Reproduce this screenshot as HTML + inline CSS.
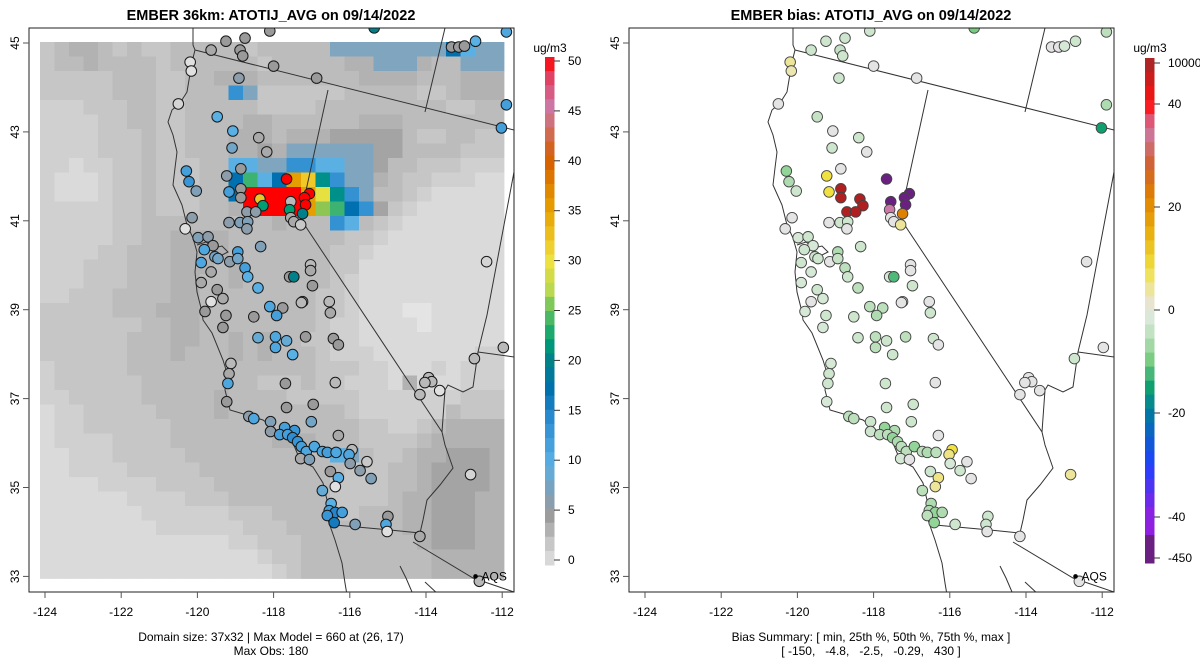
<!DOCTYPE html>
<html><head><meta charset="utf-8"><style>
html,body{margin:0;padding:0;background:#fff;}
svg{display:block;font-family:"Liberation Sans",sans-serif;}
</style></head><body>
<svg id="fig" width="1200" height="672" viewBox="0 0 1200 672" xmlns="http://www.w3.org/2000/svg">
<defs>
<clipPath id="clipL"><rect x="29" y="28" width="485" height="564"/></clipPath>
<clipPath id="clipR"><rect x="629" y="28" width="485" height="564"/></clipPath>
</defs>
<rect x="0" y="0" width="1200" height="672" fill="#fff"/>
<text x="271" y="20" text-anchor="middle" font-size="14.5" font-weight="bold">EMBER 36km: ATOTIJ_AVG on 09/14/2022</text>
<text x="871" y="20" text-anchor="middle" font-size="14.5" font-weight="bold">EMBER bias: ATOTIJ_AVG on 09/14/2022</text>
<g id="left-grid" clip-path="url(#clipL)"></g>
<g id="left-lines" clip-path="url(#clipL)" fill="none" stroke="#333" stroke-width="1"></g>
<g clip-path="url(#clipR)"><g id="right-lines" fill="none" stroke="#333" stroke-width="1" transform="translate(600,0)"></g></g>
<g id="left-pts" clip-path="url(#clipL)"></g>
<g id="right-pts" clip-path="url(#clipR)"></g>
<g id="axes"></g>
<g id="cbars"></g>
<text x="271" y="641" text-anchor="middle" font-size="12">Domain size: 37x32 | Max Model = 660 at (26, 17)</text>
<text x="271" y="655" text-anchor="middle" font-size="12">Max Obs: 180</text>
<text x="871" y="641" text-anchor="middle" font-size="12">Bias Summary: [ min, 25th %, 50th %, 75th %, max ]</text>
<text x="871" y="655" text-anchor="middle" font-size="12" xml:space="preserve">[ -150,   -4.8,   -2.5,   -0.29,   430 ]</text>
</svg>
<script>
// ---- data ----
const gridRows = [
"34554343"+"34444434"+"4444llll"+"lllldbll",
"34454444"+"34444443"+"4444455l"+"ll544lll",
"33333444"+"33445554"+"44444455"+"55444555",
"33333444"+"33444ml3"+"33333444"+"44334555",
"22233344"+"33444443"+"33344444"+"44443344",
"22223344"+"33444455"+"44444455"+"54444444",
"22223334"+"33444555"+"45556666"+"64334433",
"22223334"+"33444556"+"5llllll6"+"64444333",
"22122334"+"33344bbl"+"lmmbbll6"+"44333222",
"21112334"+"33344dgb"+"doYtmll5"+"43322211",
"21112334"+"33344drr"+"rroytml4"+"43211111",
"22222334"+"333445rr"+"rroGgdm6"+"32111111",
"22222334"+"44444444"+"5444mb43"+"21111111",
"22222334"+"45555444"+"44444332"+"11111111",
"22223344"+"45555444"+"44443321"+"11111111",
"22233344"+"45554544"+"44443311"+"11111111",
"22233344"+"45544544"+"44443211"+"11111111",
"22333444"+"45544444"+"44433211"+"11111111",
"33333444"+"55544444"+"44433211"+"10011111",
"33333334"+"45544444"+"44432211"+"11011111",
"33333344"+"45544545"+"44332211"+"11111111",
"33333344"+"45444545"+"44432221"+"11111122",
"23333344"+"44444444"+"44433322"+"11121222",
"23333334"+"44444443"+"33433222"+"15111222",
"22333334"+"44445444"+"43333322"+"22222333",
"12233333"+"44445444"+"44444322"+"22224333",
"12233333"+"34444444"+"44444433"+"22345555",
"12222333"+"34444444"+"55544433"+"33455555",
"11222333"+"33444444"+"4444bl43"+"34556665",
"11222233"+"33344444"+"44444333"+"44566665",
"11112222"+"33334444"+"44443333"+"44566665",
"11111122"+"22333444"+"44443333"+"45566655",
"11111112"+"22222333"+"44443344"+"45566655",
"11111111"+"22222233"+"34444444"+"45566655",
"11111111"+"11111223"+"33444444"+"44566655",
"11111111"+"11111112"+"33444444"+"44455555",
"11111111"+"11111111"+"23444444"+"44455555"
];
const gridPalette = {"0":"#e4e4e4","1":"#dadada","2":"#d0d0d0","3":"#c6c6c6","4":"#bcbcbc","5":"#b2b2b2","6":"#a4a4a4",
 "l":"#80a6bf","b":"#5ab0e2","m":"#3592d2","d":"#0070b0","t":"#00908a","g":"#3cb371","G":"#8ec653","y":"#e6e040","Y":"#f0c828","o":"#e69f00","r":"#ff0000"};

const siteLon = [-118.10,-115.36,-119.25,-118.75,-119.64,-118.88,-118.81,-120.19,-120.16,-118.00,-116.87,-118.91,-120.50,-119.48,-119.07,-118.39,-119.09,-118.18,-113.33,-113.14,-112.99,-112.70,-111.89,-111.89,-112.02,-120.29,-120.22,-120.03,-118.86,-119.23,-117.66,-119.17,-118.86,-118.86,-118.36,-118.28,-117.55,-117.58,-117.06,-117.19,-117.16,-117.24,-118.70,-118.47,-120.14,-120.32,-119.17,-118.88,-118.68,-118.70,-117.55,-117.47,-117.29,-119.98,-119.72,-119.59,-119.82,-118.94,-118.34,-119.54,-119.46,-119.15,-118.94,-119.90,-119.64,-118.75,-118.68,-117.03,-117.03,-117.58,-117.47,-119.90,-119.48,-118.41,-116.98,-119.33,-119.64,-118.10,-117.76,-117.24,-116.54,-112.41,-119.80,-119.25,-118.52,-117.92,-117.27,-116.51,-119.33,-118.41,-117.95,-117.95,-117.66,-117.16,-117.50,-116.43,-116.30,-119.12,-119.17,-119.20,-117.69,-116.38,-119.23,-117.66,-116.96,-118.65,-118.52,-118.08,-117.01,-117.71,-117.45,-118.08,-117.84,-117.63,-117.50,-117.37,-117.27,-117.14,-116.93,-116.72,-116.59,-116.36,-116.30,-115.94,-116.02,-115.99,-117.29,-117.06,-115.55,-115.73,-115.44,-116.51,-116.30,-116.38,-116.72,-116.49,-116.54,-116.38,-116.20,-116.59,-116.41,-115.86,-115.00,-115.05,-115.02,-114.16,-112.83,-112.73,-111.97,-113.93,-113.85,-114.03,-113.64,-114.16,-112.60];
const siteLat = [45.27,45.34,45.04,45.11,44.84,44.84,44.71,44.57,44.37,44.48,44.21,44.21,43.63,43.34,43.02,42.87,42.64,42.55,44.91,44.91,44.93,45.04,45.25,43.61,43.09,42.12,41.88,41.67,42.17,42.01,41.94,41.65,41.72,41.52,41.49,41.34,41.43,41.25,41.61,41.52,41.36,41.16,41.20,41.20,41.07,40.82,40.96,40.96,40.98,40.82,41.07,40.98,40.91,40.62,40.64,40.44,40.35,40.30,40.42,40.19,40.15,40.08,40.15,40.06,39.85,39.94,39.74,40.01,39.88,39.74,39.74,39.61,39.45,39.49,39.54,39.25,39.18,39.07,39.04,39.18,39.18,40.08,38.96,38.87,38.84,38.87,39.16,38.93,38.60,38.37,38.39,38.15,38.30,38.39,37.99,38.35,38.21,37.79,37.56,37.34,37.34,37.36,36.93,36.80,36.87,36.60,36.55,36.48,36.48,36.35,36.28,36.26,36.19,36.19,36.12,36.03,35.92,35.81,35.92,35.81,35.79,35.79,36.17,35.85,35.74,35.54,35.65,35.63,35.58,35.38,35.20,35.36,35.22,35.02,34.93,34.64,34.48,34.44,34.44,34.37,34.21,34.17,34.35,34.17,34.01,33.90,35.29,37.90,38.15,37.47,37.38,37.36,37.18,37.09,32.89];
const siteObs = [5,20,5,5,4,5,5,0,0,5,5,6,1,10,10,4,8,4,5,5,5,10,11,12,12,12,13,7,5,6,50,12,5,5,32,22,3,22,50,50,50,20,6,6,6,0,6,7,7,6,4,4,2,7,6,5,11,12,7,8,8,6,8,11,4,12,10,3,4,5,20,4,5,10,5,4,0,11,5,4,3,1,5,5,5,12,3,4,5,9,11,11,9,5,10,5,5,3,4,11,5,3,5,5,5,6,11,7,8,12,13,6,12,12,14,13,12,11,11,11,12,11,4,3,11,6,4,7,2,6,7,5,10,0,9,10,12,15,12,13,16,7,5,11,0,4,1,3,3,3,3,3,0,3,3];
const siteBias = [-3,-10,-3,-3,-3,-4,-3,4,3,0,0,-3,0,-4,0,-3,-3,0,0,0,-2,-3,-5,-6,-15,-8,-6,-3,0,8,-450,8,45,45,45,45,-450,35,-450,-450,-450,22,45,45,0,0,0,-3,-3,0,0,0,4,-2,-3,-2,-3,-6,-3,-3,-3,0,-4,-3,-2,-5,-3,0,0,-2,-12,-2,-3,-5,-3,-2,0,-5,-5,-3,0,0,-2,-3,-3,-6,0,-3,-2,-3,-5,-5,-3,-5,-3,-3,0,-2,-3,-3,-3,0,-2,-3,-3,-5,-5,-3,-3,-8,-6,-3,-5,-5,-8,-6,-5,-5,-8,-5,-6,-5,0,8,5,-2,-2,0,0,-3,0,-3,5,4,-5,-6,-6,-8,-6,-5,-8,-3,-3,-3,0,0,4,-3,0,0,0,0,0,0,0];

const obsStopV = [0,2,5,7,10,15,17,20,22,25,27,30,35,40,45,48,50];
const obsStopC = ['#e0e0e0','#c8c8c8','#9a9a9a','#80a0b8','#58b0e4','#2585cc','#0070b0','#00808a','#009e73','#60c060','#b8d850','#f0e040','#e69f00','#d55e00','#cc79a7','#e04060','#ff0000'];
const biasStopV = [-450,-40,-30,-20,-15,-10,-5,-2,0,3,8,15,22,28,35,40,45,10000];
const biasStopC = ['#6a2080','#9020e0','#2040ff','#007aa0','#10a070','#78cc80','#bcdfbc','#d6e9d6','#e4e4e4','#ece6b0','#f0e040','#e8b010','#e08000','#d06030','#cc79a7','#ff1010','#b02020','#a02828'];
const xTicks = [-124,-122,-120,-118,-116,-114,-112];
const yTicks = [33,35,37,39,41,43,45];
const obsBarTicks = [0,5,10,15,20,25,30,35,40,45,50];
const biasBarLabels = ['10000','40','20','0','-20','-40','-450'];
const biasBarPos = [63,104,207,310,413,517,558];

// ---- helpers ----
const NS = 'http://www.w3.org/2000/svg';
function mk(tag, attrs, parent){const e=document.createElementNS(NS,tag);for(const k in attrs)e.setAttribute(k,attrs[k]);parent.appendChild(e);return e;}
function hex(c){return [1,3,5].map(i=>parseInt(c.substr(i,2),16));}
function lerpC(a,b,t){const A=hex(a),B=hex(b);return 'rgb('+A.map((v,i)=>Math.round(v+(B[i]-v)*t)).join(',')+')';}
function scaleColor(v,V,C){if(v<=V[0])return C[0];for(let i=1;i<V.length;i++){if(v<=V[i]){return lerpC(C[i-1],C[i],(v-V[i-1])/(V[i]-V[i-1]));}}return C[C.length-1];}
const xL = lon => 45 + (lon+124)*38.1;
const xR = lon => 645 + (lon+124)*38.1;
const yS = lat => 43 + (45-lat)*44.45;

// ---- grid ----
const gG = document.getElementById('left-grid');
gridRows.forEach((row,r)=>{
  for(let c=0;c<row.length;c++){
    const e=mk('rect',{x:40+c*14.5,y:42+r*14.5,width:14.9,height:14.9,fill:gridPalette[row[c]]},gG);
    
    
  }
});

// ---- map boundaries (pixel geometry of left panel) ----
const mapLines = [
 [[193,28],[193,45],[195,50],[192,62],[187,92],[180,103],[172,110],[168,122],[173,135],[177,152],[175,168],[173,185],[182,205],[187,225],[193,238],[197,252],[195,272],[197,292],[202,312],[203,320],[212,333],[223,360],[227,373],[225,390],[230,410],[247,415],[263,420],[280,433],[293,443],[300,460],[313,467],[323,483],[327,500],[328,520],[335,540],[342,563],[345,583],[347,595]],
 [[197,245],[206,242],[214,248],[222,246],[228,252],[220,256]],
 [[195,50],[514,130]],
 [[445,28],[425,112]],
 [[328,90],[300,218],[442,432],[445,445],[453,468],[440,485],[427,500],[423,520],[420,533]],
 [[335,525],[390,530],[420,533]],
 [[413,542],[473,578],[514,592]],
 [[514,172],[487,315],[478,352],[473,387],[463,392],[448,385],[445,390],[442,432]],
 [[478,352],[514,357]],
 [[400,566],[406,578],[412,592]],[[425,582],[440,596]]
];
['left-lines','right-lines'].forEach(id=>{
  const g=document.getElementById(id);
  mapLines.forEach(pts=>{
    const e=mk('polyline',{points:pts.map(p=>p.join(',')).join(' ')},g);
    
    
  });
});

// ---- markers ----
const gL=document.getElementById('left-pts'), gR=document.getElementById('right-pts');
siteLon.forEach((lon,i)=>{
  const a=mk('circle',{cx:xL(lon),cy:yS(siteLat[i]),r:5.3,fill:scaleColor(siteObs[i],obsStopV,obsStopC),stroke:'#1a1a1a','stroke-width':1},gL);
  
  
  const b=mk('circle',{cx:xR(lon),cy:yS(siteLat[i]),r:5.3,fill:scaleColor(siteBias[i],biasStopV,biasStopC),stroke:'#444','stroke-width':0.9},gR);
  
  
});
const gAx=document.getElementById('axes');
[[xL(-112.7),'aqs-label-left'],[xR(-112.7),'aqs-label-right']].forEach(([x,n])=>{
  const d=mk('circle',{cx:x,cy:yS(33.0),r:2.3,fill:'#000'},gAx);
  
  
  const t=mk('text',{x:x+6,y:yS(33.0)+4,'font-size':12},gAx);
  t.textContent='AQS';
  
  
});

// ---- axes ----
[[29,xL,'left'],[629,xR,'right']].forEach(([bx,xf,side])=>{
  const box=mk('rect',{x:bx,y:28,width:485,height:564,fill:'none',stroke:'#222','stroke-width':1},gAx);
  
  
  xTicks.forEach(t=>{
    const x=xf(t);
    const l=mk('line',{x1:x,y1:592,x2:x,y2:598,stroke:'#555'},gAx);
    
    
    const tx=mk('text',{x:x,y:616,'text-anchor':'middle','font-size':12},gAx);
    tx.textContent=t;
    
    
  });
  yTicks.forEach(t=>{
    const y=yS(t);
    const l=mk('line',{x1:bx-6,y1:y,x2:bx,y2:y,stroke:'#555'},gAx);
    
    
    const tx=mk('text',{x:bx-10,y:y,'text-anchor':'middle','font-size':12,transform:'rotate(-90 '+(bx-10)+' '+y+')'},gAx);
    tx.textContent=t;
    
    
  });
});

// ---- colorbars ----
const gC=document.getElementById('cbars');
const NB=36, cbTop=57, cbBot=565;
for(let i=0;i<NB;i++){
  const y0=cbTop+(cbBot-cbTop)*i/NB, h=(cbBot-cbTop)/NB+0.5;
  const v=50*(1-(i+0.5)/NB);
  const e=mk('rect',{x:545,y:y0,width:9.5,height:h,fill:scaleColor(v,obsStopV,obsStopC)},gC);
  
  
}
obsBarTicks.forEach(t=>{
  const y=560-(t/50)*(560-61);
  const l=mk('line',{x1:554,y1:y,x2:560,y2:y,stroke:'#333'},gC);
  
  
  const tx=mk('text',{x:568,y:y+4,'font-size':12},gC);
  tx.textContent=t;
  
  
});
const biasVals=[10000,40,20,0,-20,-40,-450];
for(let i=0;i<NB;i++){
  const y0=58+(563-58)*i/NB, h=(563-58)/NB+0.5, yc=y0+h/2;
  let col;
  if(yc<=104){col=lerpC('#a02828','#ff1010',Math.max(0,(yc-58)/46));}
  else{
    let v=-450;
    for(let k=1;k<biasBarPos.length;k++){if(yc<=biasBarPos[k]){const t=(yc-biasBarPos[k-1])/(biasBarPos[k]-biasBarPos[k-1]);v=biasVals[k-1]+(biasVals[k]-biasVals[k-1])*t;break;}}
    if(yc>517){v=-40-(yc-517)/41*20;}
    col=scaleColor(v,biasStopV,biasStopC);
    if(yc>540)col='#6a2080';
  }
  const e=mk('rect',{x:1145,y:y0,width:9.5,height:h,fill:col},gC);
  
  
}
biasBarLabels.forEach((lab,i)=>{
  const y=biasBarPos[i];
  const l=mk('line',{x1:1154,y1:y,x2:1160,y2:y,stroke:'#333'},gC);
  
  
  const tx=mk('text',{x:1168,y:y+4,'font-size':12},gC);
  tx.textContent=lab;
  
  
});
[[550,'obs-colorbar-unit'],[1150,'bias-colorbar-unit']].forEach(([x,n])=>{
  const t=mk('text',{x:x,y:52,'text-anchor':'middle','font-size':12},gC);
  t.textContent='ug/m3';
  
  
});
</script>
</body></html>
